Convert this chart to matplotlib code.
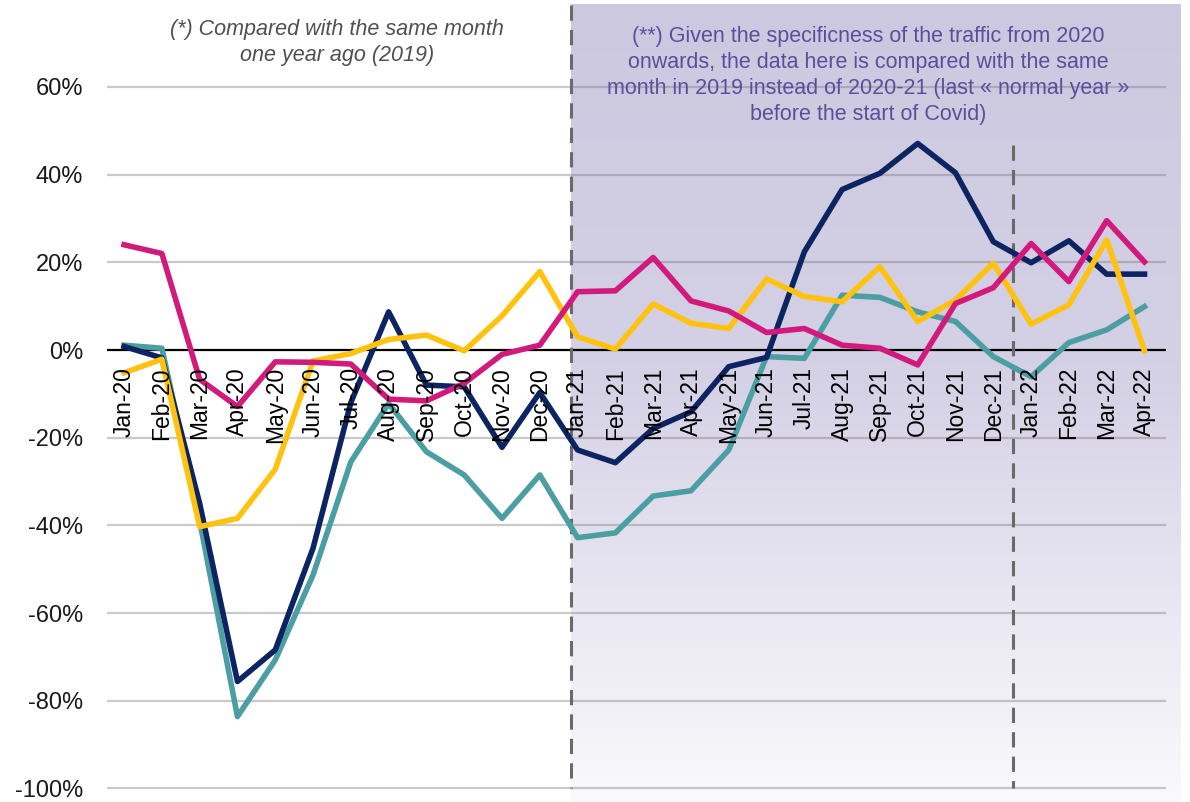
import matplotlib.pyplot as plt
import numpy as np

months = ['Jan-20', 'Feb-20', 'Mar-20', 'Apr-20', 'May-20', 'Jun-20', 'Jul-20', 'Aug-20',
          'Sep-20', 'Oct-20', 'Nov-20', 'Dec-20', 'Jan-21', 'Feb-21', 'Mar-21', 'Apr-21',
          'May-21', 'Jun-21', 'Jul-21', 'Aug-21', 'Sep-21', 'Oct-21', 'Nov-21', 'Dec-21',
          'Jan-22', 'Feb-22', 'Mar-22', 'Apr-22']

# variations en %
navy = [0.8, -1.8, -35, -75.6, -68.4, -45.2, -12, 8.7, -8.0, -8.4, -22.2, -9.7,
        -22.8, -25.7, -17.9, -14.1, -3.8, -1.7, 22.4, 36.6, 40.3, 47.1, 40.4, 24.7,
        19.9, 24.9, 17.3, 17.3]
teal = [1.1, 0.4, -39, -83.6, -70.7, -51.3, -25.5, -12.2, -23.2, -28.5, -38.4, -28.5,
        -42.8, -41.7, -33.3, -32.1, -22.8, -1.5, -1.9, 12.5, 12.0, 8.7, 6.5, -1.5,
        -6.1, 1.7, 4.6, 9.9]
yellow = [-5.2, -2.1, -40.3, -38.4, -27.2, -2.5, -0.8, 2.4, 3.4, -0.2, 7.8, 17.9,
          3.0, 0.2, 10.5, 6.1, 4.9, 16.2, 12.2, 11.0, 19.0, 6.5, 11.4, 19.8,
          5.9, 10.3, 25.1, -0.2]
magenta = [24.0, 22.0, -6.7, -12.9, -2.7, -2.8, -3.2, -11.2, -11.6, -7.6, -1.0, 1.1,
           13.3, 13.5, 21.1, 11.2, 8.9, 4.0, 4.9, 1.1, 0.4, -3.4, 10.6, 14.2,
           24.3, 15.6, 29.5, 20.1]
yticks = [60, 40, 20, 0, -20, -40, -60, -80, -100]

NOTE1 = "(*) Compared with the same month\none year ago (2019)"
NOTE2 = ("(**) Given the specificness of the traffic from 2020\n"
         "onwards, the data here is compared with the same\n"
         "month in 2019 instead of 2020-21 (last « normal year »\n"
         "before the start of Covid)")

plt.rcParams['font.family'] = ['Liberation Sans', 'DejaVu Sans']

fig = plt.figure(figsize=(11.9, 8.02), dpi=100)
ax = fig.add_axes([106.7 / 1190, 0, (1180 - 106.7) / 1190, 1])
x = np.arange(len(months))
x0, x1 = -0.46, 27.57
ax.set_xlim(-0.46, 27.94)
ax.set_ylim(-103.08, 79.82)

# zone grisee (degrade)
rows = np.linspace(0, 1, 200)
top = np.array([204, 200, 223]) / 255
mid = np.array([212, 208, 229]) / 255
bot = np.array([250, 249, 252]) / 255
grad = np.zeros((200, 1, 3))
for c in range(3):
    grad[:, 0, c] = np.interp(rows, [0, 0.45, 1], [top[c], mid[c], bot[c]])
ax.imshow(grad, extent=(11.82, 27.94, -103.08, 78.7), aspect='auto', zorder=0.5)

# grille
for v in yticks:
    if v == 0:
        ax.hlines(v, x0, x1, color='black', lw=1.6, zorder=2)
    else:
        ax.hlines(v, x0, x1, color='#808080', alpha=0.42, lw=1.6, zorder=1)

ax.plot([11.82, 11.82], [78.7, -100], ls=(0, (5, 3)), color='#6a6a6a', lw=2.2, zorder=2)
ax.plot([23.51, 23.51], [46.7, -100], ls=(0, (5, 3)), color='#6a6a6a', lw=2.2, zorder=2)

ax.plot(x, teal, color='#4b9ea2', lw=4, zorder=3)
ax.plot(x, navy, color='#0c2461', lw=4, zorder=3)
ax.plot(x, yellow, color='#ffc20e', lw=4, zorder=3)
ax.plot(x, magenta, color='#d11a7b', lw=4, zorder=3)

for i, m in enumerate(months):
    ax.text(i, -3.9, m, rotation=90, ha='center', va='top', fontsize=16.5, color='black', zorder=4)

ax.set_xticks([])
ax.set_yticks(yticks)
ax.set_yticklabels([f"{v}%" for v in yticks], fontsize=17, color='#1a1a1a')
ax.tick_params(axis='y', length=0, pad=17)
for s in ax.spines.values():
    s.set_visible(False)

ax.text(5.63, 70.1, NOTE1, ha='center', va='center', fontsize=15.5, style='italic',
        color='#505050', linespacing=1.32)
ax.text(19.68, 62.6, NOTE2, ha='center', va='center', fontsize=15.5,
        color='#5b4f9c', linespacing=1.32)

fig.savefig('out.png', dpi=100)
